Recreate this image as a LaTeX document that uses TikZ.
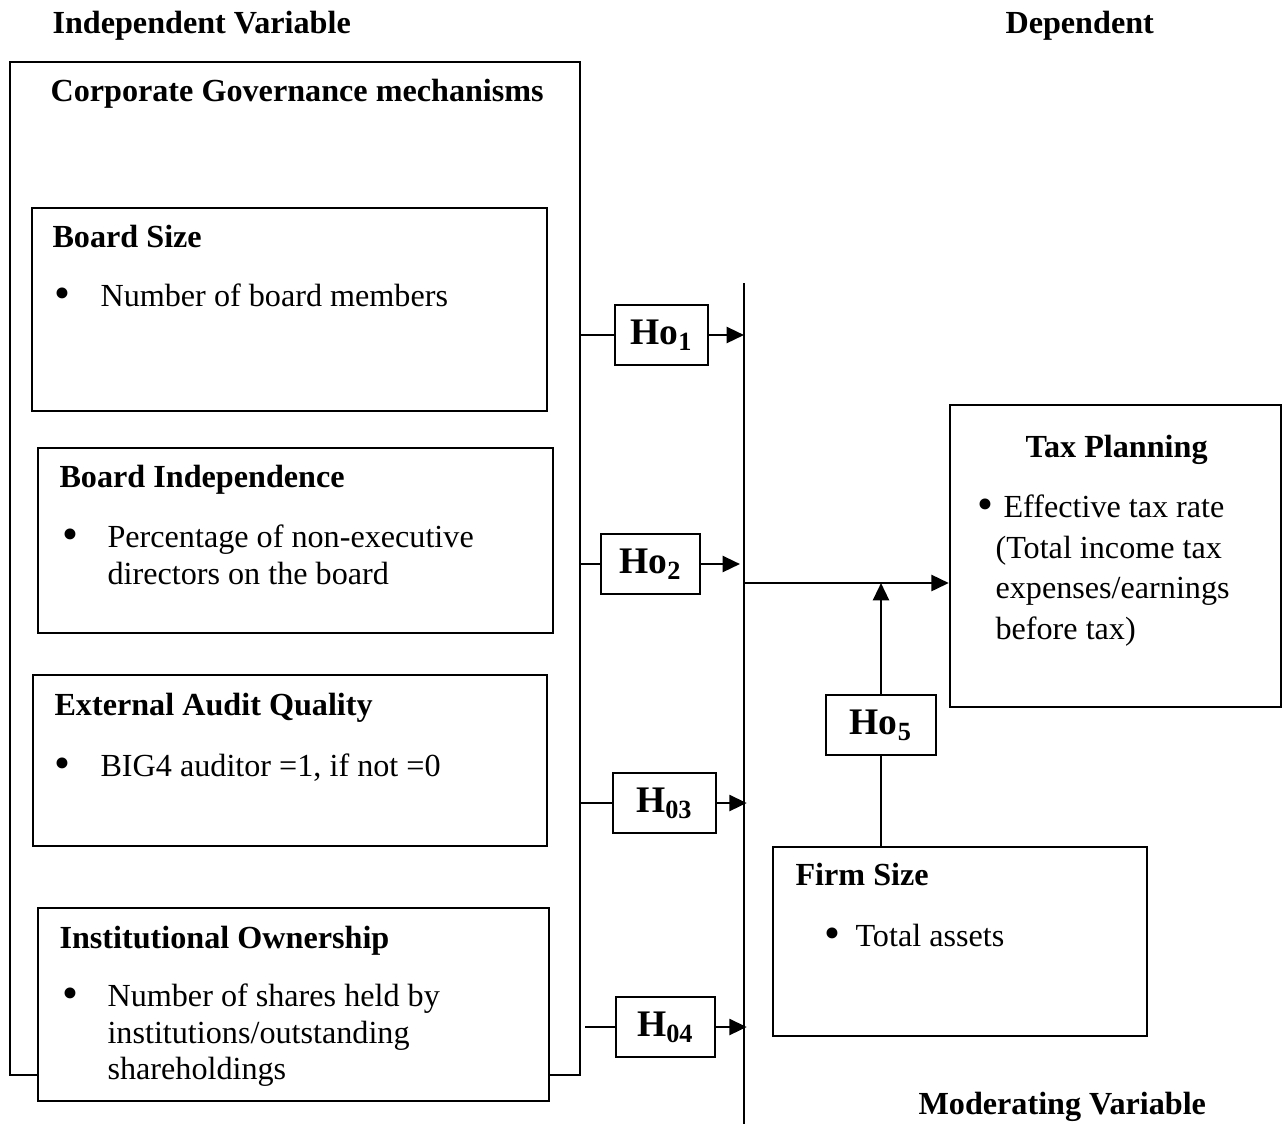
\documentclass[tikz,border=0pt]{standalone}
\usepackage{fontspec}
\setmainfont{Liberation Serif}
\usetikzlibrary{fit,arrows.meta}

\tikzset{
  box/.style={draw, line width=0.9pt, inner sep=0pt, fill=white},
  hbox/.style={draw, line width=0.9pt, inner sep=0pt, fill=white},
  hlab/.style={inner sep=0pt, font=\bfseries\fontsize{14}{16}\selectfont},
  head/.style={anchor=base west, inner sep=0pt, font=\bfseries\fontsize{12}{14}\selectfont},
  txt/.style={anchor=base west, inner sep=0pt, font=\fontsize{12}{14}\selectfont},
  dot/.style={anchor=base, inner sep=0pt, font=\fontsize{17}{14}\selectfont},
  ln/.style={line width=0.9pt},
  arr/.style={line width=0.9pt, -{Triangle[length=6.5pt,width=6pt]}}
}

\begin{document}
\begin{tikzpicture}[x=0.373pt, y=-0.373pt]
    \useasboundingbox (0,0) rectangle (1288,1124);
    % column titles
    \node[head] (indep) at (52,33) {Independent Variable};
    \node[head] (dep) at (1005,33) {Dependent};
    \node[head] (moder) at (918,1114) {Moderating Variable};

    % governance block
    \node[box, fit={(10,62) (580,1075)}] (cg) {};
    \node[head] (cgtitle) at (50,101) {Corporate Governance mechanisms};

    \node[box, fit={(32,208) (547,411)}] (bsize) {};
    \node[head] (bsizet) at (52,247) {Board Size};
    \node[dot] (bsized) at (62,308) {\textbullet};
    \node[txt] (bsizea) at (100,306) {Number of board members};

    \node[box, fit={(38,448) (553,633)}] (bind) {};
    \node[head] (bindt) at (59,487) {Board Independence};
    \node[dot] (bindd) at (70,549) {\textbullet};
    \node[txt] (binda) at (107,547) {Percentage of non-executive};
    \node[txt] (bindb) at (107,584) {directors on the board};

    \node[box, fit={(33,675) (547,846)}] (audit) {};
    \node[head] (auditt) at (54,715) {External Audit Quality};
    \node[dot] (auditd) at (62,778) {\textbullet};
    \node[txt] (audita) at (100,776) {BIG4 auditor =1, if not =0};

    \node[box, fit={(38,908) (549,1101)}] (inst) {};
    \node[head] (instt) at (59,948) {Institutional Ownership};
    \node[dot] (instd) at (70,1008) {\textbullet};
    \node[txt] (insta) at (107,1006) {Number of shares held by};
    \node[txt] (instb) at (107,1043) {institutions/outstanding};
    \node[txt] (instc) at (107,1079) {shareholdings};

    % hypotheses
    \node[hbox, fit={(615,305) (708,365)}] (ho1) {};
    \node[hlab] (ho1t) at (ho1) {Ho\textsubscript{1}};
    \node[hbox, fit={(601,534) (700,594)}] (ho2) {};
    \node[hlab] (ho2t) at (ho2) {Ho\textsubscript{2}};
    \node[hbox, fit={(613,773) (716,833)}] (ho3) {};
    \node[hlab] (ho3t) at (ho3) {H\textsubscript{03}};
    \node[hbox, fit={(616,997) (715,1057)}] (ho4) {};
    \node[hlab] (ho4t) at (ho4) {H\textsubscript{04}};
    \node[hbox, fit={(826,695) (936,755)}] (ho5) {};
    \node[hlab] (ho5t) at (ho5) {Ho\textsubscript{5}};

    \coordinate (vtop) at (744,283);
    \coordinate (vbot) at (744,1124);
    \coordinate (junc) at (744,583);
    \coordinate (h4start) at (585,1027);
    \draw[ln] (vtop) -- (vbot);

    \draw[ln] (cg.east |- ho1.west) -- (ho1.west);
    \draw[arr] (ho1.east) -- (vtop |- ho1.east);
    \draw[ln] (cg.east |- ho2.west) -- (ho2.west);
    \draw[arr] (ho2.east) -- ([xshift=-1.5pt]vtop |- ho2.east);
    \draw[ln] (cg.east |- ho3.west) -- (ho3.west);
    \draw[arr] (ho3.east) -- ([xshift=1pt]vtop |- ho3.east);
    \draw[ln] (h4start) -- (ho4.west);
    \draw[arr] (ho4.east) -- ([xshift=1pt]vtop |- ho4.east);

    % dependent
    \node[box, fit={(950,405) (1281,707)}] (tax) {};
    \node[head] (taxt) at (1025,457) {Tax Planning};
    \node[dot] (taxd) at (985,519) {\textbullet};
    \node[txt] (taxa) at (1003,517) {Effective tax rate};
    \node[txt] (taxb) at (995,558) {(Total income tax};
    \node[txt] (taxc) at (995,598) {expenses/earnings};
    \node[txt] (taxe) at (995,639) {before tax)};
    \draw[arr] (junc) -- (tax.west |- junc);

    % moderator
    \node[box, fit={(773,847) (1147,1036)}] (firm) {};
    \node[head] (firmt) at (795,885) {Firm Size};
    \node[dot] (firmd) at (832,948) {\textbullet};
    \node[txt] (firma) at (855,946) {Total assets};
    \draw[ln] (ho5.south |- firm.north) -- (ho5.south);
    \draw[arr] (ho5.north) -- (ho5.north |- junc);
\end{tikzpicture}
\end{document}
